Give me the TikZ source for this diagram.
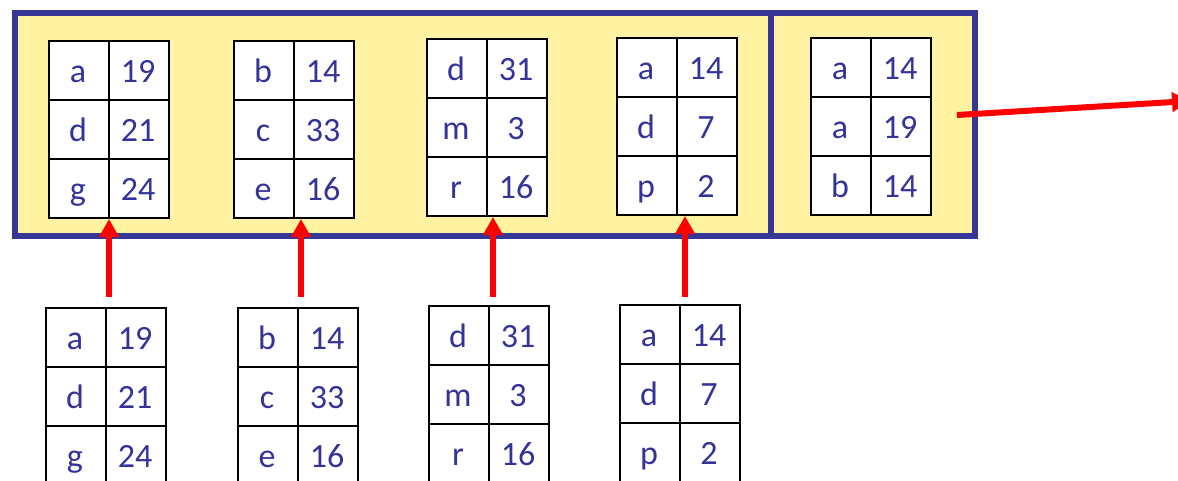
\documentclass[tikz,border=0pt]{standalone}
\usepackage{fontspec}
\setmainfont{Carlito}
\usetikzlibrary{arrows.meta,calc}
\definecolor{frameblue}{RGB}{54,54,150}
\definecolor{txtblue}{RGB}{51,51,153}
\definecolor{paleyellow}{RGB}{255,243,161}
\definecolor{arrred}{RGB}{255,0,0}
\tikzset{
  tblbox/.style={draw=black,line width=2pt,fill=white,minimum width=120pt,minimum height=177pt,inner sep=0pt,anchor=north west},
  gridline/.style={draw=black,line width=2pt},
  celltxt/.style={text=txtblue,font=\fontsize{34}{40}\selectfont,inner sep=0pt,text height=23pt,text depth=0pt,anchor=center},
  framebox/.style={draw=frameblue,line width=6pt,fill=paleyellow,inner sep=0pt,anchor=north west},
  redarrow/.style={draw=arrred,line width=6pt,-{Triangle[length=18pt,width=19pt]}},
}
\newcommand\kvtable[9]{%
  \node[tblbox] (#1) at (#2,#3) {};
  \draw[gridline] (#1.north) -- (#1.south);
  \draw[gridline] ($(#1.north west)!1/3!(#1.south west)$) -- ($(#1.north east)!1/3!(#1.south east)$);
  \draw[gridline] ($(#1.north west)!2/3!(#1.south west)$) -- ($(#1.north east)!2/3!(#1.south east)$);
  \node[celltxt] (#1-k1) at ($(#1.north west)+(30,30.5)$) {#4};
  \node[celltxt] (#1-v1) at ($(#1.north west)+(90,30.5)$) {#5};
  \node[celltxt] (#1-k2) at ($(#1.north west)+(30,89.5)$) {#6};
  \node[celltxt] (#1-v2) at ($(#1.north west)+(90,89.5)$) {#7};
  \node[celltxt] (#1-k3) at ($(#1.north west)+(30,148.5)$) {#8};
  \node[celltxt] (#1-v3) at ($(#1.north west)+(90,148.5)$) {#9};
}
\begin{document}
\begin{tikzpicture}[x=1pt,y=-1pt]
\useasboundingbox (0,0) rectangle (1178,480);
% frame
\node[framebox,minimum width=960pt,minimum height=223.5pt] (frame) at (12,9.5) {};
\coordinate (divtop) at (771,9.5);
\draw[draw=frameblue,line width=6pt] (divtop) -- (divtop |- frame.south);
% top tables
\kvtable{T1}{48}{40}{a}{19}{d}{21}{g}{24}
\kvtable{T2}{233}{40}{b}{14}{c}{33}{e}{16}
\kvtable{T3}{426}{38}{d}{31}{m}{3}{r}{16}
\kvtable{T4}{616}{37}{a}{14}{d}{7}{p}{2}
\kvtable{T5}{810}{37}{a}{14}{a}{19}{b}{14}
% bottom tables
\kvtable{B1}{45}{307}{a}{19}{d}{21}{g}{24}
\kvtable{B2}{237}{307}{b}{14}{c}{33}{e}{16}
\kvtable{B3}{428}{305}{d}{31}{m}{3}{r}{16}
\kvtable{B4}{619}{304}{a}{14}{d}{7}{p}{2}
% arrows
\coordinate (a1) at (109,297);
\coordinate (a2) at (301,297);
\coordinate (a3) at (493,297);
\coordinate (a4) at (685,297);
\draw[redarrow] (a1) -- (a1 |- T1.south);
\draw[redarrow] (a2) -- (a2 |- T2.south);
\draw[redarrow] (a3) -- (a3 |- T3.south);
\draw[redarrow] (a4) -- (a4 |- T4.south);
\coordinate (outstart) at (957,115);
\coordinate (outend) at (1190,101);
\draw[redarrow] (outstart) -- (outend);
\end{tikzpicture}
\end{document}
